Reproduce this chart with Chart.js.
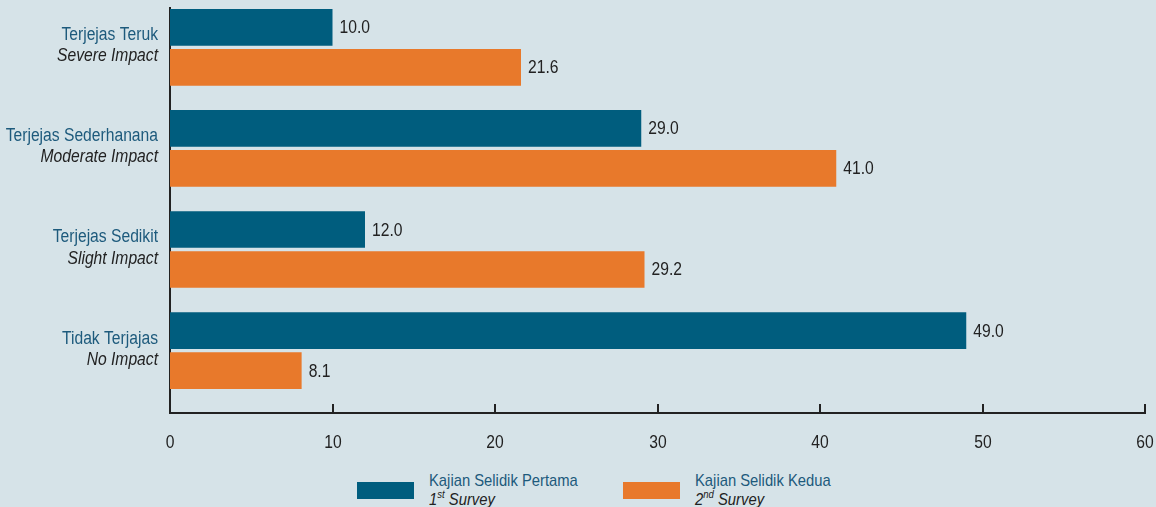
<!DOCTYPE html>
<html lang="ms">
<head>
<meta charset="UTF-8">
<title>Kajian Selidik</title>
<script src="https://cdn.jsdelivr.net/npm/chart.js"></script>
<style>
    html, body { margin: 0; padding: 0; }
    body {
        width: 1156px; height: 507px; overflow: hidden;
        background: #d6e3e8;
        font-family: 'Liberation Sans', sans-serif;
        position: relative;
    }
    #wrap { position: absolute; left: 0; top: 0; width: 1156px; height: 460px; }
    .legend-item { position: absolute; top: 470px; }
    .swatch { position: absolute; width: 57px; height: 17px; top: 12px; }
    .ltext {
        position: absolute; white-space: nowrap; font-size: 17px; line-height: 19px;
        transform: scaleX(0.87); transform-origin: left top;
    }
    .ltext .main { color: #1d5a7c; }
    .ltext .sub { color: #222; font-style: italic; }
    .ltext sup { font-size: 11px; line-height: 0; }
</style>
</head>
<body>
<div id="wrap"><canvas id="chart" width="1156" height="460"></canvas></div>

<div class="legend-item" style="left:357px">
    <div class="swatch" style="left:0; background:#005d7e"></div>
    <div class="ltext" style="left:72px; top:1px">
        <div class="main">Kajian Selidik Pertama</div>
        <div class="sub">1<sup>st</sup> Survey</div>
    </div>
</div>
<div class="legend-item" style="left:623px">
    <div class="swatch" style="left:0; background:#e8792b"></div>
    <div class="ltext" style="left:72px; top:1px">
        <div class="main">Kajian Selidik Kedua</div>
        <div class="sub">2<sup>nd</sup> Survey</div>
    </div>
</div>

<script>
    // Data dibaca dari carta asal
    const categoriesMs = ['Terjejas Teruk', 'Terjejas Sederhanana', 'Terjejas Sedikit', 'Tidak Terjajas'];
    const categoriesEn = ['Severe Impact', 'Moderate Impact', 'Slight Impact', 'No Impact'];
    const survey1 = [10.0, 29.0, 12.0, 49.0];
    const survey2 = [21.6, 41.0, 29.2, 8.1];
    const xTicks = [0, 10, 20, 30, 40, 50, 60];

    const colors = {
        blue: '#005d7e',
        orange: '#e8792b',
        teal: '#1d5a7c',
        ink: '#222222'
    };
    const FONT = "'Liberation Sans', sans-serif";
    const SQUEEZE = 0.87; // huruf asal ialah jenis "condensed"

    // tulis teks dimampatkan mendatar
    function squeezedText(ctx, text, x, y) {
        ctx.save();
        ctx.translate(x, y);
        ctx.scale(SQUEEZE, 1);
        ctx.fillText(text, 0, 0);
        ctx.restore();
    }

    // Label kategori (dua baris, gaya berbeza) + nilai bar + tanda tik + label paksi x
    const decor = {
        id: 'decor',
        afterDatasetsDraw(chart) {
            const ctx = chart.ctx;
            const xs = chart.scales.x, ys = chart.scales.y;
            const area = chart.chartArea;
            ctx.save();

            // tanda tik ke atas dari paksi x, dan labelnya
            ctx.strokeStyle = colors.ink;
            ctx.lineWidth = 2;
            ctx.font = '18px ' + FONT;
            ctx.fillStyle = colors.ink;
            ctx.textAlign = 'center';
            ctx.textBaseline = 'middle';
            xTicks.forEach(t => {
                const px = Math.round(xs.getPixelForValue(t));
                if (t !== 0) {
                    ctx.beginPath();
                    ctx.moveTo(px, area.bottom);
                    ctx.lineTo(px, area.bottom - 9);
                    ctx.stroke();
                }
                squeezedText(ctx, String(t), px, area.bottom + 30);
            });

            // nilai di hujung bar
            ctx.textAlign = 'left';
            chart.data.datasets.forEach((ds, di) => {
                chart.getDatasetMeta(di).data.forEach((bar, i) => {
                    squeezedText(ctx, ds.data[i].x.toFixed(1), bar.x + 7, bar.y + 1);
                });
            });

            // label kategori
            ctx.textAlign = 'right';
            categoriesMs.forEach((lab, i) => {
                const cy = ys.getPixelForValue(i);
                ctx.font = '18px ' + FONT;
                ctx.fillStyle = colors.teal;
                squeezedText(ctx, lab, 158, cy - 12);
                ctx.font = 'italic 18px ' + FONT;
                ctx.fillStyle = colors.ink;
                squeezedText(ctx, categoriesEn[i], 158, cy + 9);
            });
            ctx.restore();
        }
    };

    new Chart(document.getElementById('chart'), {
        type: 'bar',
        data: {
            datasets: [
                {
                    label: 'Kajian Selidik Pertama',
                    data: survey1.map((v, i) => ({ x: v, y: i })),
                    backgroundColor: colors.blue
                },
                {
                    label: 'Kajian Selidik Kedua',
                    data: survey2.map((v, i) => ({ x: v, y: i })),
                    backgroundColor: colors.orange
                }
            ]
        },
        options: {
            indexAxis: 'y',
            responsive: false,
            animation: false,
            categoryPercentage: 0.791,
            barPercentage: 0.9175,
            layout: { padding: { top: 8, right: 11, left: 0, bottom: 0 } },
            plugins: { legend: { display: false }, tooltip: { enabled: false } },
            scales: {
                x: {
                    type: 'linear',
                    min: 0,
                    max: 60,
                    afterBuildTicks: s => { s.ticks = xTicks.map(v => ({ value: v })); },
                    afterFit: s => { s.height = 47; s.paddingLeft = 0; s.paddingRight = 0; },
                    grid: { display: false, drawTicks: false },
                    border: { display: true, color: colors.ink, width: 2 },
                    ticks: { display: false }
                },
                y: {
                    type: 'linear',
                    reverse: true,
                    offset: false,
                    min: -0.389,
                    max: 3.617,
                    afterBuildTicks: s => { s.ticks = categoriesMs.map((c, i) => ({ value: i })); },
                    afterFit: s => { s.width = 170; s.paddingTop = 0; s.paddingBottom = 0; },
                    grid: { display: false, drawTicks: false, offset: false },
                    border: { display: true, color: colors.ink, width: 2 },
                    ticks: { display: false }
                }
            }
        },
        plugins: [decor]
    });
</script>
</body>
</html>
